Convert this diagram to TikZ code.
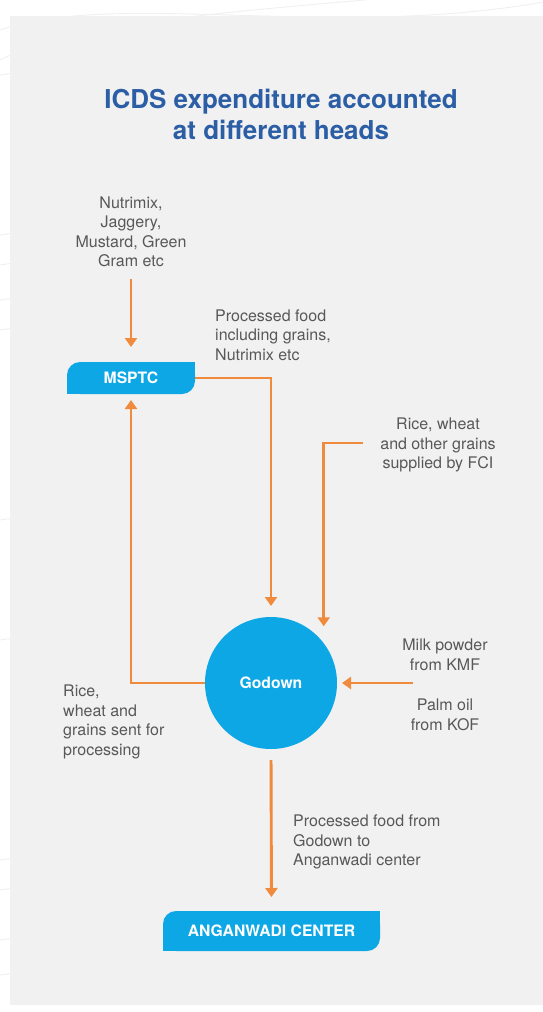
\documentclass[tikz,border=0pt]{standalone}
\usepackage{fontspec}
\setmainfont{TeX Gyre Heros}
\usetikzlibrary{arrows.meta,calc}
\definecolor{boxblue}{RGB}{14,167,229}
\definecolor{flowor}{RGB}{240,138,60}
\definecolor{titleblue}{RGB}{44,94,166}
\definecolor{labelgray}{RGB}{88,88,88}
\definecolor{panelgray}{RGB}{241,241,241}
\definecolor{wavegray}{RGB}{240,240,240}
\pgfdeclarelayer{back}
\pgfdeclarelayer{mid}
\pgfsetlayers{back,mid,main}
\tikzset{
  flow/.style={draw=flowor, line width=2.9pt, -{Triangle[width=12pt,length=9pt]}},
  lbl/.style={text=labelgray, font=\fontsize{16}{19.5}\selectfont, inner sep=0pt},
  boxtxt/.style={text=white, font=\bfseries\fontsize{15.7}{18}\selectfont, inner sep=0pt, outer sep=0pt},
  titletxt/.style={text=titleblue, font=\bfseries\fontsize{26}{31}\selectfont, inner sep=0pt, align=center},
  wave/.style={draw=wavegray, line width=0.9pt}
}
\begin{document}
\begin{tikzpicture}[x=1pt,y=-1pt]
\useasboundingbox (0,0) rectangle (543,1012);
\begin{pgfonlayer}{back}
  \fill[white] (0,0) rectangle (543,1012);
  \draw[wave] (0,30) .. controls (120,-10) and (330,40) .. (543,2);
  \draw[wave] (0,60) .. controls (80,20) and (260,10) .. (420,-5);
  \foreach \yy in {75,235,265,300,330,520,640,860,890,940,975} {
    \draw[wave] (0,\yy) -- (14,\yy-2);
  }
  \fill[panelgray] (10,16) rectangle (543,1005);
\end{pgfonlayer}

\node[titletxt] (title) at (281,114) {ICDS expenditure accounted\\at different heads};

\node[boxtxt, minimum width=128pt, minimum height=32pt] (msptc) at (131,378) {MSPTC};
\node[boxtxt, minimum width=217pt, minimum height=40pt] (anganwadi) at (271.5,931) {ANGANWADI CENTER};
\node[boxtxt, circle, fill=boxblue, minimum size=132pt] (godown) at (271,683) {Godown};

\begin{pgfonlayer}{mid}
  \foreach \b in {msptc,anganwadi} {
    \fill[boxblue, rounded corners=13pt] (\b.south west) rectangle (\b.north east);
    \fill[boxblue] (\b.north east) rectangle ([xshift=-15pt,yshift=-15pt]\b.north east);
    \fill[boxblue] (\b.south west) rectangle ([xshift=15pt,yshift=15pt]\b.south west);
  }
\end{pgfonlayer}

\node[lbl, align=center] (nutr) at (131,232) {Nutrimix,\\Jaggery,\\Mustard, Green\\Gram etc};
\node[lbl, align=left, anchor=west] (proc) at (215,335) {Processed food\\including grains,\\Nutrimix etc};
\node[lbl, align=center] (fci) at (438,445) {Rice, wheat\\and other grains\\supplied by FCI};
\node[lbl, align=center] (milk) at (445,655) {Milk powder\\from KMF};
\node[lbl, align=center] (palm) at (445,715) {Palm oil\\from KOF};
\node[lbl, align=left, anchor=west] (rice) at (63,722) {Rice,\\wheat and\\grains sent for\\processing};
\node[lbl, align=left, anchor=west] (pfg) at (293,842) {Processed food from\\Godown to\\Anganwadi center};

\coordinate (fcistart) at (363,443);
\coordinate (milkstart) at (413,683);

\draw[flow, shorten <=12pt, shorten >=15pt] (nutr.south) -- (msptc.north);
\draw[flow, shorten >=11pt] (msptc.east) -| (godown.north);
\draw[flow, shorten >=17pt] (fcistart) -| (godown.37);
\draw[flow, shorten >=5pt] (milkstart) -- (godown.east);
\draw[flow, shorten >=6pt] (godown.west) -| (msptc.south);
\draw[flow, shorten <=11pt, shorten >=14pt] (godown.south) -- (anganwadi.north);
\end{tikzpicture}
\end{document}
